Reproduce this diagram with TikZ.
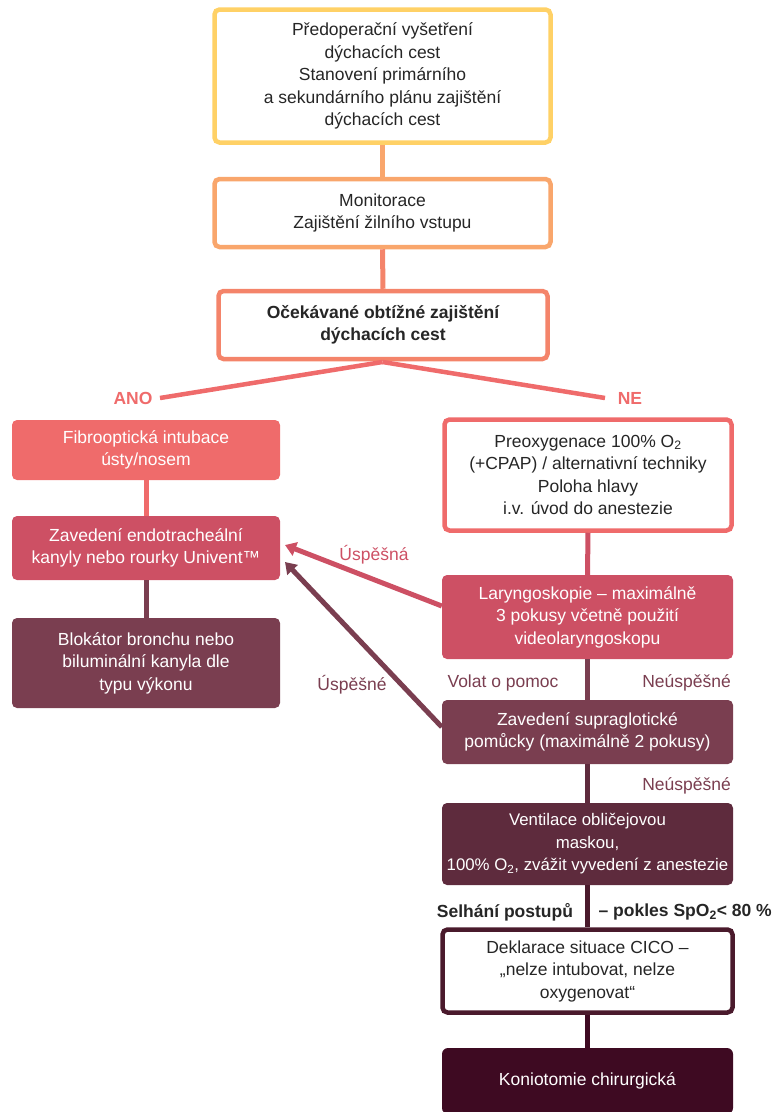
\documentclass[tikz,border=0pt]{standalone}
\usepackage{fontspec}
\setmainfont{Liberation Sans}
\usetikzlibrary{arrows.meta}
\definecolor{cyel}{HTML}{FFD166}
\definecolor{corg}{HTML}{F9A66C}
\definecolor{csal}{HTML}{F4846A}
\definecolor{cred}{HTML}{EF6B6B}
\definecolor{cpink}{HTML}{CD5064}
\definecolor{cplum}{HTML}{7A3E50}
\definecolor{cwine}{HTML}{5E2B3D}
\definecolor{cdark}{HTML}{4A1A2C}
\definecolor{cdeep}{HTML}{3E0A22}
\definecolor{ctext}{HTML}{262626}
\newcommand{\fs}{\fontsize{17.5}{22.5}\selectfont}
\tikzset{
  box/.style={rounded corners=5pt, align=center, text=ctext, inner sep=2pt, font=\fs},
  obox/.style={box, draw, line width=4.5pt, fill=white},
  fbox/.style={box, text=white},
  conn/.style={line width=5pt},
  lbl/.style={font=\fs, inner sep=0pt},
  blbl/.style={font=\fs\bfseries, inner sep=0pt},
  arr/.style={line width=5pt, -{Triangle[length=11pt,width=14pt]}},
}
\begin{document}
\begin{tikzpicture}[x=1pt,y=-1pt]
\useasboundingbox (0,0) rectangle (774,1112);
% nodes
\node[obox, draw=cyel, minimum width=336, minimum height=133] (n1) at (382.5,76)
  {Předoperační vyšetření\\dýchacích cest\\Stanovení primárního\\a sekundárního plánu zajištění\\dýchacích cest};
\node[obox, draw=corg, minimum width=336, minimum height=68] (n2) at (382.5,213)
  {Monitorace\\Zajištění žilního vstupu};
\node[obox, draw=csal, minimum width=329, minimum height=68, font=\fs\bfseries] (n3) at (383,325)
  {Očekávané obtížné zajištění\\dýchacích cest};
\node[fbox, fill=cred, minimum width=268, minimum height=60] (l1) at (146,450)
  {Fibrooptická intubace\\ústy/nosem};
\node[fbox, fill=cpink, minimum width=268, minimum height=64] (l2) at (146,548)
  {Zavedení endotracheální\\kanyly nebo rourky Univent™};
\node[fbox, fill=cplum, minimum width=268, minimum height=90] (l3) at (146,663)
  {Blokátor bronchu nebo\\biluminální kanyla dle\\typu výkonu};
\node[obox, draw=cred, minimum width=287, minimum height=111] (r1) at (588,475)
  {Preoxygenace 100\% O\textsubscript{2}\\(+CPAP) / alternativní techniky\\Poloha hlavy\\i.v. úvod do anestezie};
\node[fbox, fill=cpink, minimum width=291, minimum height=84] (r2) at (587.5,617)
  {Laryngoskopie – maximálně\\3 pokusy včetně použití\\videolaryngoskopu};
\node[fbox, fill=cplum, minimum width=291, minimum height=64] (r3) at (587.5,732)
  {Zavedení supraglotické\\pomůcky (maximálně 2 pokusy)};
\node[fbox, fill=cwine, minimum width=291, minimum height=82, inner xsep=0pt, font=\fontsize{16.8}{22.5}\selectfont] (r4) at (587.5,844)
  {Ventilace obličejovou\\maskou,\\100\% O\textsubscript{2}, zvážit vyvedení z anestezie};
\node[obox, draw=cdark, minimum width=290, minimum height=83] (r5) at (587.5,971)
  {Deklarace situace CICO –\\„nelze intubovat, nelze\\oxygenovat“};
\node[fbox, fill=cdeep, minimum width=291, minimum height=66, rounded corners=6pt] (r6) at (587.5,1081)
  {Koniotomie chirurgická};
% labels
\node[blbl, text=cred] (ano) at (133,398) {ANO};
\node[blbl, text=cred] (ne) at (630,398) {NE};
\node[lbl, text=cpink] (usp1) at (374,555) {Úspěšná};
\node[lbl, text=cplum] (usp2) at (352,685) {Úspěšné};
\node[lbl, text=cplum] (volat) at (503,683) {Volat o pomoc};
\node[lbl, text=cplum, anchor=east] (neu1) at (731,683) {Neúspěšné};
\node[lbl, text=cplum, anchor=east] (neu2) at (731,786) {Neúspěšné};
\node[blbl, text=ctext] (selh) at (505,912) {Selhání postupů};
\node[blbl, text=ctext, anchor=east] (pokl) at (772,912) {– pokles SpO\textsubscript{2}< 80 \%};
% connectors
\draw[conn, draw=corg] (n1.south) -- (n2.north);
\draw[conn, draw=csal] (n2.south) -- (n3.north);
\coordinate (split) at (382.5,362);
\coordinate (anoend) at (160,398);
\coordinate (neend) at (605,398);
\draw[conn, draw=cred, line width=4.5pt] (split) -- (anoend);
\draw[conn, draw=cred, line width=4.5pt] (split) -- (neend);
\draw[conn, draw=cred] (l1.south) -- (l2.north);
\draw[conn, draw=cplum] (l2.south) -- (l3.north);
\draw[conn, draw=cpink] (r1.south) -- (r2.north);
\draw[conn, draw=cplum] (r2.south) -- (r3.north);
\draw[conn, draw=cwine] (r3.south) -- (r4.north);
\draw[conn, draw=cdark] (r4.south) -- (r5.north);
\draw[conn, draw=cdeep] (r5.south) -- (r6.north);
\coordinate (a1) at (285,545);
\coordinate (a2) at (285,562);
\draw[arr, draw=cpink, fill=cpink] (r2.west |- 0,606) -- (a1);
\draw[arr, draw=cplum, fill=cplum] (r3.west |- 0,727) -- (a2);
\end{tikzpicture}
\end{document}
